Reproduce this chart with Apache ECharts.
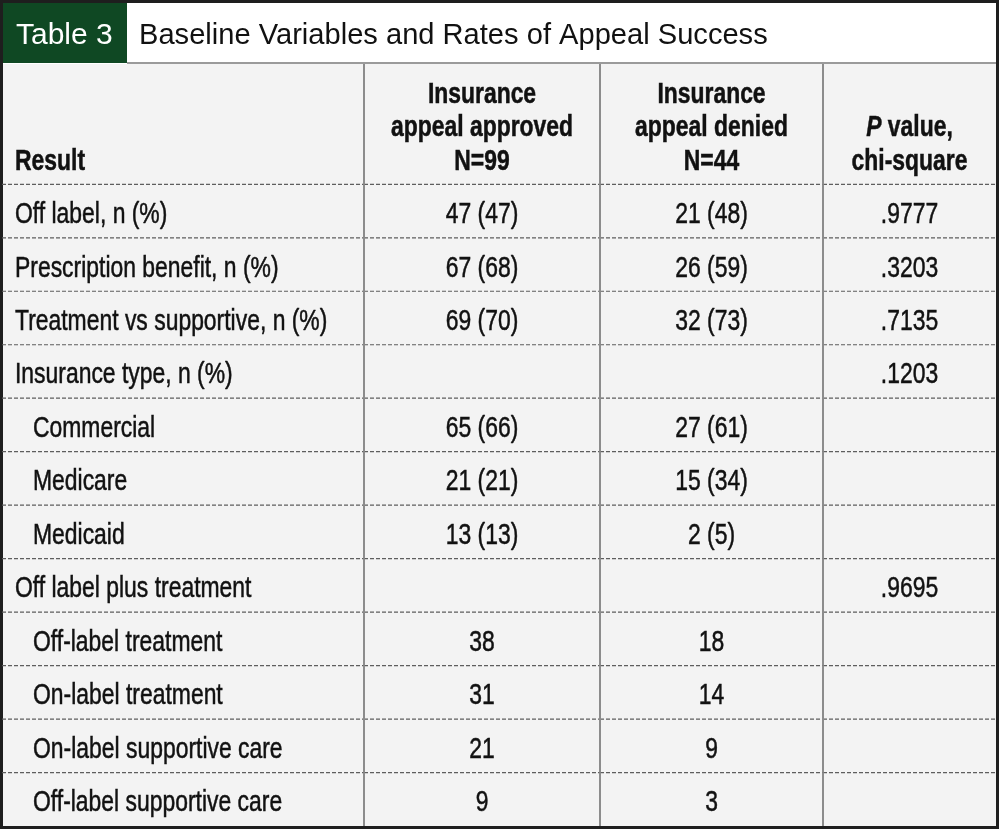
<!DOCTYPE html>
<html lang="en">

<head>
  <meta charset="UTF-8">
  <title>Table 3</title>
  <script src="https://cdn.jsdelivr.net/npm/echarts@6/dist/echarts.min.js"></script>
  <style>
    html,
    body {
      padding: 0;
      margin: 0;
      background: #fff;
    }

    #chart {
      height: 829px;
      width: 1000px;
    }
  </style>
</head>

<body>
  <div id="chart"></div>
  <script>
    // table content
    const headers = ['Result', 'Insurance\nappeal approved\nN=99', 'Insurance\nappeal denied\nN=44', '{i|P} value,\nchi-square']
    const rowLabels = [
      'Off label, n (%)', 'Prescription benefit, n (%)', 'Treatment vs supportive, n (%)', 'Insurance type, n (%)',
      'Commercial', 'Medicare', 'Medicaid', 'Off label plus treatment',
      'Off-label treatment', 'On-label treatment', 'On-label supportive care', 'Off-label supportive care'
    ]
    const indented = [0, 0, 0, 0, 1, 1, 1, 0, 1, 1, 1, 1]
    const approved = ['47 (47)', '67 (68)', '69 (70)', '', '65 (66)', '21 (21)', '13 (13)', '', '38', '31', '21', '9']
    const denied = ['21 (48)', '26 (59)', '32 (73)', '', '27 (61)', '15 (34)', '2 (5)', '', '18', '14', '9', '3']
    const pValues = ['.9777', '.3203', '.7135', '.1203', '', '', '', '.9695', '', '', '', '']

    // layout
    const FONT = "'Liberation Sans', Arial, sans-serif"
    const SQUEEZE = 0.79 // horizontal squeeze to mimic a condensed face
    const colEdges = [0, 362, 598, 821, 994] // column borders inside the grid
    const HEADER_H = 2.25 // header height in row units
    const nRows = rowLabels.length

    const columns = [rowLabels, approved, denied, pValues]
    const cells = [] // [col, row, text]
    headers.forEach((h, c) => cells.push([c, -1, h]))
    for (let r = 0; r < nRows; r++) {
      for (let c = 0; c < 4; c++) cells.push([c, r, columns[c][r]])
    }

    function renderCell(params, api) {
      const [c, r, txt] = cells[params.dataIndex]
      const top = r < 0 ? 0 : HEADER_H + r
      const bottom = r < 0 ? HEADER_H : top + 1
      const p0 = api.coord([colEdges[c], top])
      const p1 = api.coord([colEdges[c + 1], bottom])
      const children = []
      const isHead = r < 0
      const tx = c === 0 ? p0[0] + 13 + (isHead ? 0 : indented[r] * 18) : (p0[0] + p1[0]) / 2
      children.push({
        type: 'text',
        x: tx,
        y: isHead ? p1[1] - 6 : (p0[1] + p1[1]) / 2 + 4,
        scaleX: SQUEEZE,
        style: {
          text: txt,
          x: 0,
          y: 0,
          align: c === 0 ? 'left' : 'center',
          verticalAlign: isHead ? 'bottom' : 'middle',
          fontFamily: FONT,
          fontSize: 29,
          fontWeight: isHead ? 'bold' : 'normal',
          lineHeight: 33.5,
          fill: '#111',
          stroke: '#111',
          lineWidth: 0.5,
          rich: {
            i: { fontStyle: 'italic', fontWeight: 'bold', fontFamily: FONT, fontSize: 29, lineHeight: 33.5, fill: '#111' }
          }
        }
      })
      if (r < nRows - 1) {
        children.push({
          type: 'line',
          shape: { x1: p0[0], y1: p1[1], x2: p1[0], y2: p1[1] },
          style: { stroke: '#5e5e5e', lineWidth: 1.2, lineDash: [4, 2] }
        })
      }
      if (c > 0) {
        children.push({
          type: 'line',
          shape: { x1: p0[0], y1: p0[1], x2: p0[0], y2: p1[1] },
          style: { stroke: '#8c8c8c', lineWidth: 2 }
        })
      }
      return { type: 'group', children }
    }

    const chart = echarts.init(document.getElementById('chart'))
    chart.setOption({
      animation: false,
      backgroundColor: '#fff',
      grid: {
        show: true, left: 2, right: 4, top: 64, bottom: 3,
        backgroundColor: '#f3f3f3', borderWidth: 0
      },
      xAxis: { type: 'value', min: 0, max: colEdges[colEdges.length - 1], show: false },
      yAxis: { type: 'value', min: 0, max: HEADER_H + nRows, inverse: true, show: false },
      series: [{
        type: 'custom',
        renderItem: renderCell,
        data: cells.map(d => [d[0], d[1]]),
        silent: true
      }],
      graphic: [
        { type: 'rect', shape: { x: 2, y: 2, width: 125, height: 61 }, style: { fill: '#0f4823' } },
        {
          type: 'text', x: 16, y: 36, scaleX: 1.0,
          style: { text: 'Table 3', x: 0, y: 0, verticalAlign: 'middle', fontFamily: FONT, fontSize: 30, fill: '#fff' }
        },
        {
          type: 'text', x: 139, y: 36, scaleX: 0.97,
          style: {
            text: 'Baseline Variables and Rates of Appeal Success', x: 0, y: 0, verticalAlign: 'middle',
            fontFamily: FONT, fontSize: 30, fill: '#111'
          }
        },
        { type: 'line', shape: { x1: 127, y1: 63, x2: 996, y2: 63 }, style: { stroke: '#9a9a9a', lineWidth: 2 } },
        { type: 'rect', shape: { x: 1.5, y: 1.5, width: 996, height: 826 }, style: { fill: 'none', stroke: '#1e1e1e', lineWidth: 3 } }
      ]
    })
  </script>
</body>

</html>
